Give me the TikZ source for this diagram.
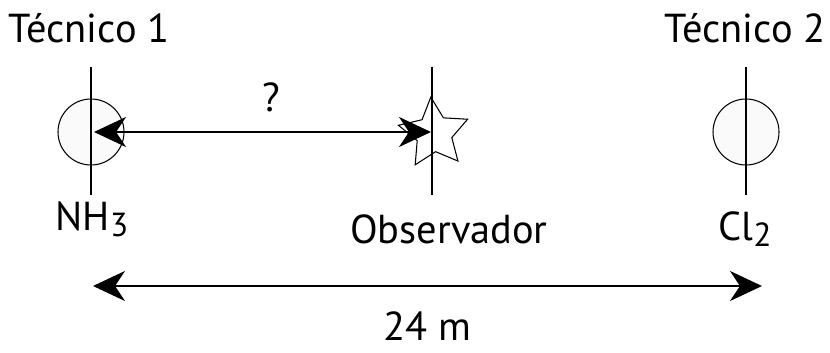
\documentclass[tikz,border=0pt]{standalone}
\usepackage{fontspec}
\setmainfont{PT Sans}
\usetikzlibrary{calc,positioning,arrows.meta,shapes.geometric}

\newcommand{\lowsub}[1]{{\fontsize{19}{22}\selectfont\raisebox{-0.4ex}{#1}}}

\tikzset{
  gas/.style={circle,draw=black,line width=0.6pt,fill=gray!4,minimum size=1.32cm,inner sep=0pt},
  obsstar/.style={star,star points=5,star point ratio=2,draw=black,line width=0.6pt,fill=white,minimum size=1.46cm,inner sep=0pt,rotate=5},
  txt/.style={anchor=base,inner sep=0pt,font=\fontsize{23}{27}\selectfont},
  pole/.style={line width=1.5pt},
  dist/.style={line width=1.4pt,{Stealth[length=0.64cm,width=0.6cm,inset=0.2cm]}-{Stealth[length=0.64cm,width=0.6cm,inset=0.2cm]}}
}

\begin{document}
\begin{tikzpicture}
     \useasboundingbox (0,0) rectangle (16.6,7.04);
     % gases and observer
     \node at (1.82,4.40)[gas](gas1){};
     \node at (14.92,4.40)[gas](gas2){};
     \node at (8.68,4.37)[obsstar](obs){};
     % poles
     \coordinate (p1t) at ($(gas1)+(0,1.30)$);
     \coordinate (p1b) at ($(gas1)+(0,-1.26)$);
     \coordinate (p2t) at ($(gas2)+(0,1.30)$);
     \coordinate (p2b) at ($(gas2)+(0,-1.26)$);
     \coordinate (p3t) at (8.64,5.70);
     \coordinate (p3b) at (8.64,3.14);
     \draw[pole](p1t)--(p1b);
     \draw[pole](p2t)--(p2b);
     \draw[pole](p3t)--(p3b);
     % labels
     \node at (1.78,6.18)[txt](tec1){Técnico 1};
     \node at (14.90,6.18)[txt](tec2){Técnico 2};
     \node at (1.84,2.44)[txt](nh3){NH\lowsub{3}};
     \node at (8.98,2.18)[txt](obsl){Observador};
     \node at (14.90,2.24)[txt](cl2){Cl\lowsub{2}};
     % distances
     \coordinate (q1) at (1.88,4.40);
     \coordinate (q2) at (8.62,4.40);
     \draw[dist](q1)--(q2);
     \node at (5.42,4.80)[txt](ques){?};
     \coordinate (d1) at (1.86,1.32);
     \coordinate (d2) at (15.24,1.32);
     \draw[dist](d1)--(d2);
     \node at (8.54,0.24)[txt](len){24 m};
\end{tikzpicture}
\end{document}
